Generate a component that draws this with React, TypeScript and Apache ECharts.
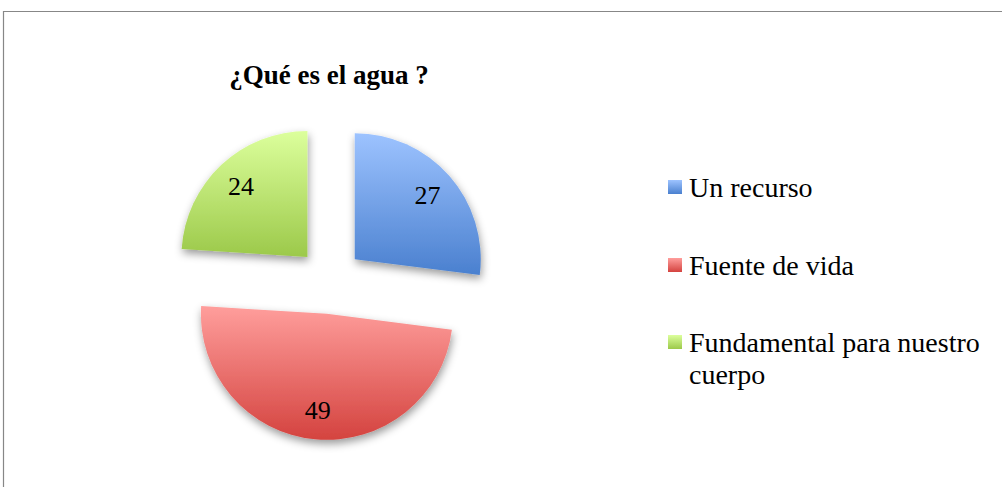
import React, { useEffect, useRef } from "react";
import * as echarts from "echarts";

const titleText = "¿Qué es el agua ?";
const categories = ["Un recurso", "Fuente de vida", "Fundamental para nuestro cuerpo"];
const values = [27, 49, 24];
const topColors = ["#9DC3FF", "#FF9E9C", "#DCFF9C"];
const bottomColors = ["#4A80CF", "#D4433F", "#9CC94A"];

const SERIF = "'Liberation Serif', 'DejaVu Serif', serif";

export default function App() {
  const ref = useRef<HTMLDivElement>(null);

  useEffect(() => {
    if (!ref.current) return;
    const chart = echarts.init(ref.current, undefined, { renderer: "svg" });

    const total = values.reduce((a, b) => a + b, 0);
    const midAngles: number[] = [];
    let cum = 0;
    values.forEach((v) => {
      midAngles.push(90 - (360 * (cum + v / 2)) / total);
      cum += v;
    });
    const labelShift = 31;

    const grad = (i: number) =>
      new echarts.graphic.LinearGradient(0, 0, 0, 1, [
        { offset: 0, color: topColors[i] },
        { offset: 1, color: bottomColors[i] },
      ]);

    const data = categories.map((name, i) => ({
      name,
      value: values[i],
      selected: true,
      itemStyle: { color: grad(i) },
    }));

    const legendText = {
      fontFamily: SERIF,
      fontSize: 28,
      color: "#000000",
      lineHeight: 32,
      padding: [0, 0, 0, 2],
    };

    chart.setOption({
      animation: false,
      backgroundColor: "#ffffff",
      title: {
        text: titleText,
        left: 324,
        top: 56,
        textAlign: "center",
        textStyle: {
          fontFamily: SERIF,
          fontWeight: "bold",
          fontSize: 27,
          color: "#000000",
        },
      },
      graphic: [
        {
          type: "rect",
          shape: { x: 3.5, y: 11.5, width: 1200, height: 700 },
          style: { fill: "none", stroke: "#878787", lineWidth: 1.2 },
          silent: true,
        },
      ],
      legend: [
        {
          orient: "vertical",
          left: 668,
          top: 171,
          padding: 0,
          itemWidth: 14,
          itemHeight: 14,
          itemGap: 46,
          icon: "rect",
          selectedMode: false,
          data: [categories[0], categories[1]],
          textStyle: legendText,
        },
        {
          orient: "vertical",
          left: 668,
          top: 294,
          padding: 0,
          itemWidth: 14,
          itemHeight: 14,
          icon: "rect",
          selectedMode: false,
          data: [categories[2]],
          formatter: (name: string) => "\n" + name,
          textStyle: { ...legendText, width: 305, overflow: "break" },
        },
      ],
      series: [
        {
          type: "pie",
          center: [330, 281],
          radius: 126,
          startAngle: 90,
          clockwise: true,
          selectedMode: "multiple",
          selectedOffset: 33,
          avoidLabelOverlap: false,
          itemStyle: {
            shadowBlur: 8,
            shadowOffsetX: 1,
            shadowOffsetY: 4,
            shadowColor: "rgba(0,0,0,0.4)",
          },
          label: {
            show: true,
            position: "inside",
            formatter: "{c}",
            fontFamily: SERIF,
            fontSize: 26,
            color: "#000000",
          },
          labelLine: { show: false },
          labelLayout: (params: any) => {
            const a = (midAngles[params.dataIndex] * Math.PI) / 180;
            return { dx: labelShift * Math.cos(a), dy: -labelShift * Math.sin(a) };
          },
          emphasis: { disabled: true },
          select: { itemStyle: {} },
          data,
        },
      ],
    });

    return () => chart.dispose();
  }, []);

  return (
    <div
      ref={ref}
      style={{ position: "fixed", left: 0, top: 0, width: 1002, height: 487 }}
    />
  );
}
